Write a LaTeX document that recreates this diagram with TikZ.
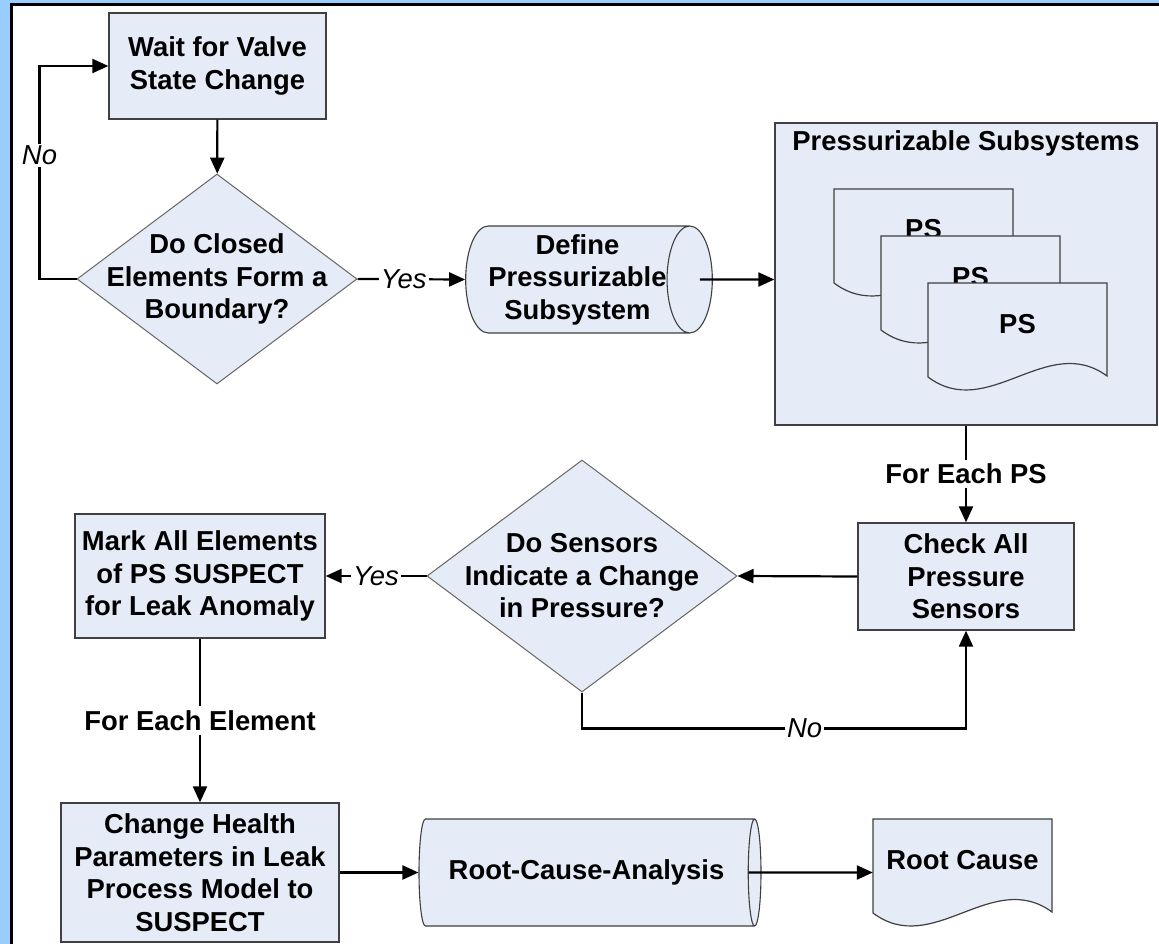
\documentclass[tikz,border=0pt]{standalone}
\usepackage{fontspec}
\setmainfont{Liberation Sans}
\usetikzlibrary{shapes.geometric,arrows.meta}

\definecolor{frameblue}{RGB}{153,204,255}
\definecolor{boxfill}{RGB}{229,236,247}
\definecolor{boxline}{RGB}{64,64,64}

\tikzset{
    boxtext/.style={align=center, inner sep=0pt, font=\fontsize{27.4}{32.5}\selectfont\bfseries},
    box/.style={boxtext, rectangle, draw=boxline, fill=boxfill, line width=1.3pt},
    decision/.style={diamond, draw=boxline!80, fill=boxfill, line width=1pt, inner sep=0pt},
    drum/.style={boxtext, cylinder, shape border rotate=0, aspect=0.5, anchor=shape center, draw=boxline, fill=boxfill, line width=1.1pt},
    docline/.style={draw=boxline, fill=boxfill, line width=1.2pt},
    doctext/.style={boxtext, minimum width=179pt, minimum height=107pt, text height=20pt, text depth=27pt},
    flow/.style={line width=2.2pt, -{Triangle[length=16pt,width=14pt]}},
    lbl/.style={fill=white, inner sep=2pt, font=\fontsize{27.4}{32.5}\selectfont\itshape},
    steplbl/.style={fill=white, inner sep=4pt, font=\fontsize{27.4}{32.5}\selectfont\bfseries},
}

% document shape: name, x, y (top left), text
\newcommand{\docshape}[4]{%
    \begin{scope}[shift={(#2,#3)}]
        \filldraw[docline] (0,0) -- (179,0) -- (179,93)
            .. controls (119,49) and (60,139) .. (0,94) -- cycle;
        \node[doctext] (#1) at (89.5,53.5) {#4};
    \end{scope}}

\begin{document}
\begin{tikzpicture}[x=1pt, y=-1pt]
    \useasboundingbox (0,0) rectangle (1159,944);
    % frame
    \fill[frameblue] (0,0) rectangle (1159,944);
    \fill[black] (10,3) rectangle (1159,944);
    \fill[white] (13,6) rectangle (1159,944);

    % Top row
    \node[box, minimum width=217pt, minimum height=106pt] (wait) at (217.5,66) {Wait for Valve\\State Change};
    \node[decision, minimum width=280pt, minimum height=210pt,
        label={[boxtext]center:Do Closed\\Elements Form a\\Boundary?}] (closed) at (217,279) {};
    \node[drum, minimum height=244pt, minimum width=107pt] (define) at (589,279.5) {Define\\Pressurizable\\Subsystem};

    % Pressurizable subsystems
    \node[box, minimum width=382pt, minimum height=302pt] (ps) at (966,274) {};
    \node[boxtext] (pstitle) at (966,143) {Pressurizable Subsystems};
    \docshape{ps1}{834}{189}{PS}
    \docshape{ps2}{881}{236}{PS}
    \docshape{ps3}{928}{283}{PS}

    % Middle row
    \node[box, minimum width=216pt, minimum height=107pt] (check) at (966,576.5) {Check All\\Pressure\\Sensors};
    \node[decision, minimum width=310pt, minimum height=232pt,
        label={[boxtext]center:Do Sensors\\Indicate a Change\\in Pressure?}] (sensors) at (582,576) {};
    \node[box, minimum width=250pt, minimum height=124pt] (mark) at (200,576) {Mark All Elements\\of PS SUSPECT\\for Leak Anomaly};

    % Bottom row
    \node[box, minimum width=278pt, minimum height=139pt] (change) at (200,872.5) {Change Health\\Parameters in Leak\\Process Model to\\SUSPECT};
    \node[drum, minimum height=342pt, minimum width=107pt] (rca) at (590,872.5) {Root-Cause-Analysis};
    \docshape{rootcause}{873}{819}{Root Cause}

    % Connectors
    \draw[flow] (wait) -- (closed);
    \draw[flow] (closed.west) -- ++(-37,0) |- (wait.west) node[pos=0.29, lbl] {No};
    \draw[flow] (closed.east) -- (define.west) node[pos=0.43, lbl] {Yes};
    \draw[flow] ([xshift=-13pt]define.east) -- (define -| ps.west);
    \draw[flow] (ps) -- (check) node[midway, steplbl] {For Each PS};
    \draw[flow] (check.west) -- (sensors.east);
    \draw[flow] (sensors.west) -- (mark.east) node[midway, lbl] {Yes};
    \draw[flow] (sensors.south) -- ++(0,36) -| (check.south) node[pos=0.29, lbl] {No};
    \draw[flow] (mark) -- (change) node[midway, steplbl] {For Each Element};
    \draw[flow] (change.east) -- (rca.west);
    \draw[flow] ([xshift=-13pt]rca.east) -- (rootcause.west);
\end{tikzpicture}
\end{document}
